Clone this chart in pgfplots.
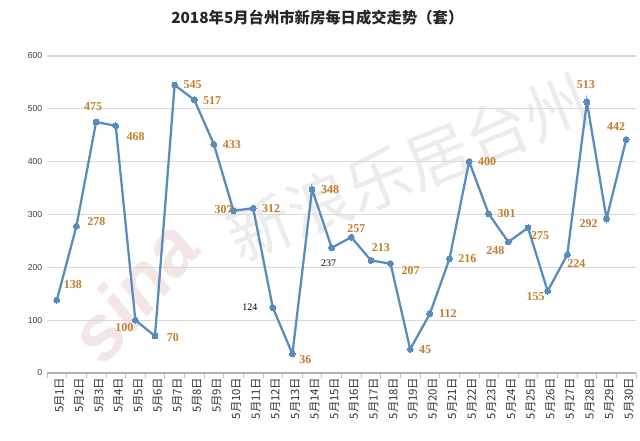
\documentclass[border=0pt]{standalone}
\usepackage{pgfplots}
\pgfplotsset{compat=1.18}
\usepackage{pgfplotstable}
\usepackage{fontspec}
\setmainfont{Noto Sans CJK SC}
\newfontfamily\labfont{Liberation Serif}
\newfontfamily\tickfont{Liberation Sans}
\definecolor{lineblue}{RGB}{88,140,188}
\definecolor{lab}{RGB}{192,126,46}
\definecolor{titlec}{RGB}{38,38,38}
\definecolor{wm}{RGB}{236,236,236}
\definecolor{wmred}{RGB}{244,230,230}

\pgfplotstableread{
x y dx dy
1 138 12 12
2 278 15 3.75
3 475 -2.25 11.25
4 468 15 -8.25
5 100 -8.25 -5.25
6 70 13.5 -1.5
7 545 13.5 0
8 517 13.5 -0.75
9 433 13.5 0
10 307 -7.5 0.75
11 312 13.5 0
13 36 9.75 -4.5
14 348 13.5 0
16 257 3.75 6.75
17 213 7.5 9.75
18 207 15 -5.25
19 45 11.25 0
20 112 13.5 0
21 216 13.5 0
22 400 13.5 0
23 301 13.5 0
24 248 -9.75 -6.75
25 275 9 -6
26 155 -9 -3.75
27 224 6.75 -6.75
28 513 -0.75 12.75
29 292 -13.5 -3.75
30 442 -7.5 9.75
}\orangelabels

\pgfplotstableread{
x y dx dy
12 124 -17.25 0
15 237 -2.25 -11.25
}\blacklabels

\pgfplotstableread{
x y
1 138
2 278
3 475
4 468
5 100
6 70
7 545
8 517
9 433
10 307
11 312
12 124
13 36
14 348
15 237
16 257
17 213
18 207
19 45
20 112
21 216
22 400
23 301
24 248
25 275
26 155
27 224
28 513
29 292
30 442
}\datatable

\begin{document}
\begin{tikzpicture}
\path[use as bounding box] (0pt,0pt) rectangle (480pt,330pt);
\fill[white] (0pt,0pt) rectangle (480pt,330pt);
% faint watermark
\node[rotate=22, text=wm, font=\fontsize{48}{48}\selectfont] at (306pt,204pt) {新浪乐居台州};
\node[rotate=50, text=wmred, font=\tickfont\bfseries\itshape\fontsize{58}{58}\selectfont] at (100pt,112pt) {sina};
\node[font=\bfseries\fontsize{11.5}{12}\selectfont, text=titlec] at (238pt,317pt) {2018年5月台州市新房每日成交走势（套）};
\begin{axis}[
  at={(35.25pt,50.25pt)}, anchor=south west,
  scale only axis, width=441.75pt, height=237.75pt,
  xmin=0.5, xmax=30.5, ymin=0, ymax=600,
  separate axis lines,
  axis x line*=bottom, axis y line*=left,
  y axis line style={draw=none},
  x axis line style={draw=black!30, line width=0.8pt},
  ytick={0,100,...,600},
  ymajorgrids, grid style={draw=black!15, line width=0.8pt},
  ytick style={draw=none},
  xtick={1,...,30},
  minor xtick={0.5,1.5,...,30.5},
  major tick length=0pt, minor tick length=3.5pt,
  tick align=outside,
  minor tick style={draw=black!25, line width=0.6pt},
  xticklabels={5月1日,5月2日,5月3日,5月4日,5月5日,5月6日,5月7日,5月8日,5月9日,5月10日,5月11日,5月12日,5月13日,5月14日,5月15日,5月16日,5月17日,5月18日,5月19日,5月20日,5月21日,5月22日,5月23日,5月24日,5月25日,5月26日,5月27日,5月28日,5月29日,5月30日},
  xticklabel style={rotate=90, anchor=east, font=\fontsize{8.5}{9}\selectfont, text=black!80, yshift=-2pt},
  yticklabel style={font=\tickfont\fontsize{6.5}{7}\selectfont, text=black!75},
  /pgf/number format/assume math mode=true,
  clip=false,
]
\addplot[line width=1.7pt, color=lineblue, mark=*, mark size=2.2pt,
  mark options={fill=lineblue, draw=lineblue, line width=0pt}]
  table[x=x, y=y] \datatable;
\addplot[draw=none, mark=none, forget plot,
  point meta=explicit symbolic,
  visualization depends on={\thisrow{dx} \as \myDX},
  visualization depends on={\thisrow{dy} \as \myDY},
  nodes near coords={\pgfplotspointmeta},
  nodes near coords style={anchor=center, xshift=\myDX pt, yshift=\myDY pt, text=lab, font=\labfont\bfseries\fontsize{9}{9}\selectfont, inner sep=0pt}
] table[x=x, y=y, meta=y] \orangelabels;
\addplot[draw=none, mark=none, forget plot,
  point meta=explicit symbolic,
  visualization depends on={\thisrow{dx} \as \myDX},
  visualization depends on={\thisrow{dy} \as \myDY},
  nodes near coords={\pgfplotspointmeta},
  nodes near coords style={anchor=center, xshift=\myDX pt, yshift=\myDY pt, text=black, font=\labfont\fontsize{7.5}{7.5}\selectfont, inner sep=0pt}
] table[x=x, y=y, meta=y] \blacklabels;
\end{axis}
\end{tikzpicture}
\end{document}
